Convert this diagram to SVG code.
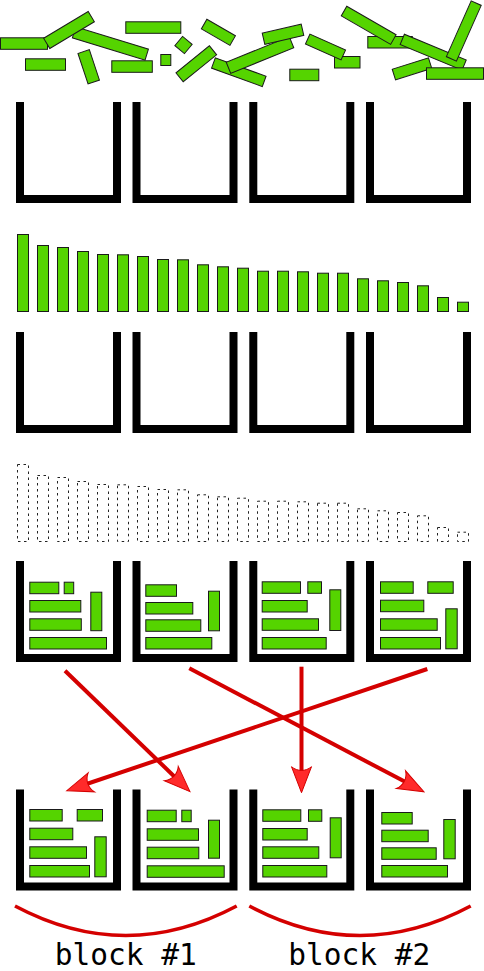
<svg xmlns="http://www.w3.org/2000/svg" xmlns:xlink="http://www.w3.org/1999/xlink" width="484" height="971" viewBox="0 0 484 971">
<style>
.it{fill:#55d400;stroke:#1a1a1a;stroke-width:1}
.ds{fill:none;stroke:#222;stroke-width:1;stroke-dasharray:2.5,3.5}
.bin{fill:none;stroke:#000;stroke-width:8;stroke-linejoin:miter;stroke-linecap:butt}
.arr{fill:none;stroke:#d40000;stroke-width:4;marker-end:url(#ah)}
.arc{fill:none;stroke:#d40000;stroke-width:3.5}
.lbl{font-family:"DejaVu Sans Mono","Liberation Mono",monospace;font-size:29.5px;fill:#000;text-anchor:middle}
</style>
<defs>
<path id="binshape" class="bin" d="M4,0 V97 H101 V0"/>
<marker id="ah" markerUnits="userSpaceOnUse" viewBox="-28 -12 30 24" refX="-10" refY="0" markerWidth="30" markerHeight="24" orient="auto" overflow="visible">
<path d="M0,0 L-26,-10 C-21,-4 -21,4 -26,10 Z" fill="#ff2a2a" stroke="#d40000" stroke-width="1"/>
</marker>
</defs>

<g id="scattered">
<rect class="it" x="0.5" y="37.8" width="47" height="11.5"/>
<rect class="it" x="-38" y="-5.75" width="76" height="11.5" transform="translate(110.4,43.5) rotate(17)"/>
<rect class="it" x="-26" y="-6" width="52" height="12" transform="translate(69,30) rotate(-31)"/>
<rect class="it" x="125.8" y="21.8" width="55" height="11.5"/>
<rect class="it" x="-6.25" y="-6" width="12.5" height="12" transform="translate(183.5,45) rotate(40)"/>
<rect class="it" x="-16.5" y="-5.5" width="33" height="11" transform="translate(218.4,32.3) rotate(30)"/>
<rect class="it" x="25.5" y="58.8" width="40" height="11.5"/>
<rect class="it" x="-6" y="-16" width="12" height="32" transform="translate(88.7,66.8) rotate(-18.4)"/>
<rect class="it" x="111.8" y="60.8" width="40.5" height="11.5"/>
<rect class="it" x="160.8" y="54.5" width="10" height="11"/>
<rect class="it" x="-27" y="-5.5" width="54" height="11" transform="translate(238.8,72.2) rotate(20)"/>
<rect class="it" x="-21.5" y="-5.75" width="43" height="11.5" transform="translate(196.3,63.8) rotate(-39)"/>
<rect class="it" x="-34" y="-6" width="68" height="12" transform="translate(260,55) rotate(-22)"/>
<rect class="it" x="-20" y="-5.75" width="40" height="11.5" transform="translate(283,34.3) rotate(-13)"/>
<rect class="it" x="334.5" y="56.5" width="25.5" height="11.5"/>
<rect class="it" x="-19.5" y="-5.5" width="39" height="11" transform="translate(325.5,47) rotate(24)"/>
<rect class="it" x="289.8" y="69.2" width="29" height="11.5"/>
<rect class="it" x="367.8" y="36.5" width="44.5" height="11.5"/>
<rect class="it" x="-28.5" y="-5.5" width="57" height="11" transform="translate(368.7,25.3) rotate(30)"/>
<rect class="it" x="-33.5" y="-5.5" width="67" height="11" transform="translate(433.2,52.2) rotate(22.6)"/>
<rect class="it" x="-5.5" y="-30.5" width="11" height="61" transform="translate(463.8,31) rotate(24)"/>
<rect class="it" x="-19" y="-5.5" width="38" height="11" transform="translate(412,68.8) rotate(-17.5)"/>
<rect class="it" x="426.5" y="67.8" width="57" height="11.5"/>
</g>

<g id="bins-row1">
<use xlink:href="#binshape" x="16" y="102"/>
<use xlink:href="#binshape" x="132.5" y="102"/>
<use xlink:href="#binshape" x="249.3" y="102"/>
<use xlink:href="#binshape" x="366" y="102"/>
</g>

<g id="sorted-bars">
<rect class="it" x="17.5" y="234.5" width="11" height="77"/>
<rect class="it" x="37.5" y="245.5" width="11" height="66"/>
<rect class="it" x="57.5" y="247.5" width="11" height="64"/>
<rect class="it" x="77.5" y="251.5" width="11" height="60"/>
<rect class="it" x="97.5" y="254.5" width="11" height="57"/>
<rect class="it" x="117.5" y="254.8" width="11" height="56.7"/>
<rect class="it" x="137.5" y="256.5" width="11" height="55"/>
<rect class="it" x="157.5" y="259.5" width="11" height="52"/>
<rect class="it" x="177.5" y="259.8" width="11" height="51.7"/>
<rect class="it" x="197.5" y="264.8" width="11" height="46.7"/>
<rect class="it" x="217.5" y="266.8" width="11" height="44.7"/>
<rect class="it" x="237.5" y="268.2" width="11" height="43.3"/>
<rect class="it" x="257.5" y="271.2" width="11" height="40.3"/>
<rect class="it" x="277.5" y="271.2" width="11" height="40.3"/>
<rect class="it" x="297.5" y="271.8" width="11" height="39.7"/>
<rect class="it" x="317.5" y="273.2" width="11" height="38.3"/>
<rect class="it" x="337.5" y="273.2" width="11" height="38.3"/>
<rect class="it" x="357.5" y="278.8" width="11" height="32.7"/>
<rect class="it" x="377.5" y="280.8" width="11" height="30.7"/>
<rect class="it" x="397.5" y="282.5" width="11" height="29"/>
<rect class="it" x="417.5" y="285.8" width="11" height="25.7"/>
<rect class="it" x="437.5" y="297.5" width="11" height="14"/>
<rect class="it" x="457.5" y="302.2" width="11" height="9.3"/>
</g>

<g id="bins-row2">
<use xlink:href="#binshape" x="16" y="332"/>
<use xlink:href="#binshape" x="132.5" y="332"/>
<use xlink:href="#binshape" x="249.3" y="332"/>
<use xlink:href="#binshape" x="366" y="332"/>
</g>

<g id="dashed-bars">
<rect class="ds" x="17.5" y="464.5" width="11" height="77"/>
<rect class="ds" x="37.5" y="475.5" width="11" height="66"/>
<rect class="ds" x="57.5" y="477.5" width="11" height="64"/>
<rect class="ds" x="77.5" y="481.5" width="11" height="60"/>
<rect class="ds" x="97.5" y="484.5" width="11" height="57"/>
<rect class="ds" x="117.5" y="484.8" width="11" height="56.7"/>
<rect class="ds" x="137.5" y="486.5" width="11" height="55"/>
<rect class="ds" x="157.5" y="489.5" width="11" height="52"/>
<rect class="ds" x="177.5" y="489.8" width="11" height="51.7"/>
<rect class="ds" x="197.5" y="494.8" width="11" height="46.7"/>
<rect class="ds" x="217.5" y="496.8" width="11" height="44.7"/>
<rect class="ds" x="237.5" y="498.2" width="11" height="43.3"/>
<rect class="ds" x="257.5" y="501.2" width="11" height="40.3"/>
<rect class="ds" x="277.5" y="501.2" width="11" height="40.3"/>
<rect class="ds" x="297.5" y="501.8" width="11" height="39.7"/>
<rect class="ds" x="317.5" y="503.2" width="11" height="38.3"/>
<rect class="ds" x="337.5" y="503.2" width="11" height="38.3"/>
<rect class="ds" x="357.5" y="508.8" width="11" height="32.7"/>
<rect class="ds" x="377.5" y="510.8" width="11" height="30.7"/>
<rect class="ds" x="397.5" y="512.5" width="11" height="29"/>
<rect class="ds" x="417.5" y="515.8" width="11" height="25.7"/>
<rect class="ds" x="437.5" y="527.5" width="11" height="14"/>
<rect class="ds" x="457.5" y="532.2" width="11" height="9.3"/>
</g>

<g id="row3-bin1">
<use xlink:href="#binshape" x="16" y="561"/>
<rect class="it" x="29.8" y="582.2" width="29" height="11.5"/>
<rect class="it" x="64.2" y="582.2" width="9.5" height="11.5"/>
<rect class="it" x="29.8" y="600.5" width="51" height="11.5"/>
<rect class="it" x="29.8" y="618.8" width="51.5" height="11.5"/>
<rect class="it" x="90.8" y="592.2" width="11" height="38.5"/>
<rect class="it" x="29.8" y="637.5" width="76.7" height="11.5"/>
</g>
<g id="row3-bin2">
<use xlink:href="#binshape" x="132.5" y="561"/>
<rect class="it" x="145.8" y="584.8" width="30.7" height="11.5"/>
<rect class="it" x="145.8" y="602.5" width="47" height="11.5"/>
<rect class="it" x="145.8" y="619.8" width="55" height="11.5"/>
<rect class="it" x="208.5" y="591.2" width="11" height="39.6"/>
<rect class="it" x="145.8" y="637.5" width="66" height="11.5"/>
</g>
<g id="row3-bin3">
<use xlink:href="#binshape" x="249.3" y="561"/>
<rect class="it" x="262.2" y="581.8" width="38.3" height="11.5"/>
<rect class="it" x="307.8" y="581.8" width="13.7" height="11.5"/>
<rect class="it" x="262.2" y="600.5" width="45" height="11.5"/>
<rect class="it" x="262.2" y="618.8" width="56.3" height="11.5"/>
<rect class="it" x="329.8" y="589.8" width="11" height="40.7"/>
<rect class="it" x="262.2" y="637.5" width="64" height="11.5"/>
</g>
<g id="row3-bin4">
<use xlink:href="#binshape" x="366" y="561"/>
<rect class="it" x="380.5" y="581.8" width="32.7" height="11.5"/>
<rect class="it" x="427.8" y="581.8" width="25.4" height="11.5"/>
<rect class="it" x="380.5" y="600.2" width="43.3" height="11.5"/>
<rect class="it" x="380.5" y="618.8" width="56.7" height="11.5"/>
<rect class="it" x="445.8" y="608.8" width="11.4" height="40"/>
<rect class="it" x="380.5" y="637.5" width="60" height="11.5"/>
</g>

<g id="connectors">
<line class="arr" x1="65" y1="670.7" x2="182.8" y2="784.7"/>
<line class="arr" x1="189.3" y1="668.3" x2="415.1" y2="787.1"/>
<line class="arr" x1="301.5" y1="666.7" x2="301.5" y2="782.7"/>
<line class="arr" x1="427.3" y1="669" x2="76.2" y2="787.5"/>
</g>

<g id="row4-bin1">
<use xlink:href="#binshape" x="16" y="789.5"/>
<rect class="it" x="29.8" y="809.5" width="32.4" height="11.5"/>
<rect class="it" x="77.2" y="809.5" width="25.3" height="11.5"/>
<rect class="it" x="29.8" y="828.2" width="43" height="11.5"/>
<rect class="it" x="29.8" y="846.8" width="56.7" height="11.5"/>
<rect class="it" x="94.8" y="836.8" width="11.4" height="40"/>
<rect class="it" x="29.8" y="865.5" width="59.7" height="11.5"/>
</g>
<g id="row4-bin2">
<use xlink:href="#binshape" x="132.5" y="789.5"/>
<rect class="it" x="147.2" y="810.2" width="29" height="11.5"/>
<rect class="it" x="181.8" y="810.2" width="9.4" height="11.5"/>
<rect class="it" x="147.2" y="828.8" width="51.3" height="11.5"/>
<rect class="it" x="147.2" y="847.2" width="51.6" height="11.5"/>
<rect class="it" x="208.5" y="820.2" width="11" height="38"/>
<rect class="it" x="147.2" y="865.8" width="77" height="11.5"/>
</g>
<g id="row4-bin3">
<use xlink:href="#binshape" x="249.3" y="789.5"/>
<rect class="it" x="262.8" y="809.8" width="38" height="11.5"/>
<rect class="it" x="308.5" y="809.8" width="13.3" height="11.5"/>
<rect class="it" x="262.8" y="828.5" width="44.4" height="11.5"/>
<rect class="it" x="262.8" y="846.8" width="56" height="11.5"/>
<rect class="it" x="330.2" y="817.8" width="11" height="40"/>
<rect class="it" x="262.8" y="865.5" width="64" height="11.5"/>
</g>
<g id="row4-bin4">
<use xlink:href="#binshape" x="366" y="789.5"/>
<rect class="it" x="381.8" y="812.5" width="30.4" height="11.5"/>
<rect class="it" x="381.8" y="830.2" width="46.4" height="11.5"/>
<rect class="it" x="381.8" y="847.8" width="54.4" height="11.5"/>
<rect class="it" x="443.8" y="819.5" width="11.4" height="39.3"/>
<rect class="it" x="381.8" y="865.5" width="65.7" height="11.5"/>
</g>

<g id="block1">
<path class="arc" d="M15,906 Q125.8,965 236.7,906"/>
<text class="lbl" x="125.8" y="965">block #1</text>
</g>
<g id="block2">
<path class="arc" d="M249.3,906 Q360,965 470.7,906"/>
<text class="lbl" x="359.2" y="965">block #2</text>
</g>
</svg>
